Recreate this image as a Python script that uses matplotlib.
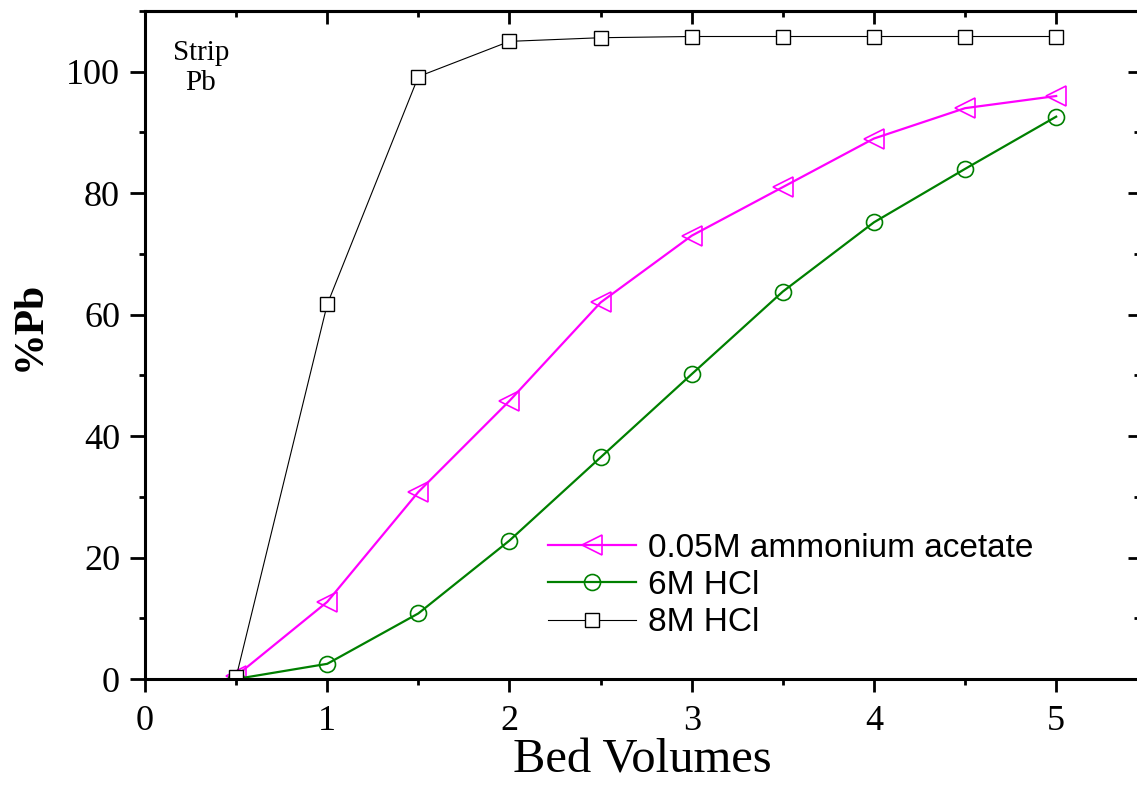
import matplotlib.pyplot as plt
from matplotlib.ticker import MultipleLocator

bed_volumes = [0.5, 1, 1.5, 2, 2.5, 3, 3.5, 4, 4.5, 5]
acetate = [0.5, 12.7, 30.8, 45.8, 62.0, 73.0, 81.0, 89.0, 94.0, 96.0]
hcl_6m = [0.0, 2.5, 10.8, 22.8, 36.5, 50.2, 63.8, 75.2, 84.0, 92.6]
hcl_8m = [0.3, 61.7, 99.2, 105.0, 105.6, 105.8, 105.8, 105.8, 105.8, 105.8]

serif = 'Liberation Serif'

fig = plt.figure(figsize=(11.37, 7.89), dpi=100)
ax = fig.add_axes([145 / 1137, 1 - 679 / 789, 995 / 1137, 668 / 789])

ax.plot(bed_volumes, acetate, color='magenta', lw=1.6, marker='<', ms=14,
        mfc='none', mec='magenta', mew=1.2, label='0.05M ammonium acetate')
ax.plot(bed_volumes, hcl_6m, color='green', lw=1.6, marker='o', ms=11.5,
        mfc='none', mec='green', mew=1.2, label='6M HCl')
ax.plot(bed_volumes, hcl_8m, color='black', lw=0.8, marker='s', ms=10.5,
        mfc='white', mec='black', mew=1.0, label='8M HCl')

ax.set_xlim(0, 5.46)
ax.set_ylim(0, 110)
ax.xaxis.set_major_locator(MultipleLocator(1))
ax.xaxis.set_minor_locator(MultipleLocator(0.5))
ax.yaxis.set_major_locator(MultipleLocator(20))
ax.yaxis.set_minor_locator(MultipleLocator(10))

for s in ax.spines.values():
    s.set_linewidth(2.2)
ax.spines['right'].set_visible(False)

ax.tick_params(which='both', direction='out', width=2, top=False, right=False)
ax.tick_params(which='major', length=9)
ax.tick_params(which='minor', length=4.5)
ax.tick_params(axis='y', which='major', length=11)

# mirrored ticks on top / right, pointing in
ax_top = ax.secondary_xaxis('top')
ax_top.xaxis.set_major_locator(MultipleLocator(1))
ax_top.xaxis.set_minor_locator(MultipleLocator(0.5))
ax_top.tick_params(which='both', direction='in', width=2, labeltop=False)
ax_top.tick_params(which='major', length=9)
ax_top.tick_params(which='minor', length=4)
ax_top.spines['top'].set_linewidth(2.2)

ax_r = ax.secondary_yaxis('right')
ax_r.yaxis.set_major_locator(MultipleLocator(20))
ax_r.yaxis.set_minor_locator(MultipleLocator(10))
ax_r.tick_params(which='both', direction='in', width=2, labelright=False)
ax_r.tick_params(which='major', length=9)
ax_r.tick_params(which='minor', length=4)
ax_r.spines['right'].set_visible(False)

for lab in ax.get_xticklabels() + ax.get_yticklabels():
    lab.set_fontfamily(serif)
    lab.set_fontsize(26)
ax.tick_params(axis='x', pad=10)
ax.tick_params(axis='y', pad=7)

ax.set_xlabel('Bed Volumes', family=serif, fontsize=35, labelpad=0)
ax.set_ylabel('%Pb', family=serif, fontsize=30, fontweight='bold')
ax.yaxis.set_label_coords(-0.097, 0.528)

ax.text(0.307, 102, 'Strip', family=serif, fontsize=21, ha='center', va='baseline')
ax.text(0.307, 97.0, 'Pb', family=serif, fontsize=21, ha='center', va='baseline')

leg = ax.legend(loc='upper left', bbox_to_anchor=(0.405, 0.219), frameon=False,
                prop={'family': 'Liberation Sans', 'size': 24},
                handlelength=2.65, handletextpad=0.35, labelspacing=0.19,
                borderpad=0, borderaxespad=0)

fig.savefig('out.png', dpi=100)
